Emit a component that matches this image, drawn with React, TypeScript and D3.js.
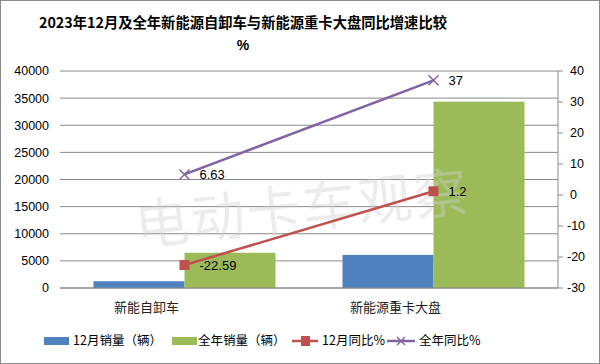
import React from 'react';
import * as d3 from 'd3';

const categories = ['新能自卸车', '新能源重卡大盘'];
const decSales = [1250, 6100];
const yearSales = [6500, 34350];
const decYoY = [-22.59, 1.2];
const yearYoY = [6.63, 37];
const leftTicks = [0, 5000, 10000, 15000, 20000, 25000, 30000, 35000, 40000];
const rightTicks = [-30, -20, -10, 0, 10, 20, 30, 40];
const seriesNames = ['12月销量（辆）', '全年销量（辆）', '12月同比%', '全年同比%'];

const W = 600;
const H = 364;
const plot = { left: 60, right: 558, top: 71, bottom: 288 };
const colors = { blue: '#4F81BD', green: '#9BBB59', red: '#C0504D', purple: '#8064A2' };
const numFont = '"Liberation Sans", "Open Sans", sans-serif';
const cjkFont = '"Noto Sans CJK SC", sans-serif';

export default function App() {
  const x = d3.scaleBand<string>().domain(categories).range([plot.left, plot.right]).paddingInner(0).paddingOuter(0);
  const xs = d3.scaleBand<string>().domain(['dec', 'year']).range([0, x.bandwidth()]).paddingInner(0).paddingOuter(0.368);
  const yL = d3.scaleLinear().domain([0, 40000]).range([plot.bottom, plot.top]);
  const yR = d3.scaleLinear().domain([-30, 40]).range([plot.bottom, plot.top]);
  const cx = (c: string) => (x(c) as number) + x.bandwidth() / 2;

  const line = d3.line<number>()
    .x((_, i) => cx(categories[i]))
    .y(d => yR(d));

  const cross = (px: number, py: number, s: number, key: string) => (
    <g key={key} stroke={colors.purple} strokeWidth={1.5}>
      <line x1={px - s} y1={py - s} x2={px + s} y2={py + s} />
      <line x1={px - s} y1={py + s} x2={px + s} y2={py - s} />
    </g>
  );

  const legendY = 341;
  const legend = [
    { x: 44, type: 'bar', color: colors.blue, tx: 73 },
    { x: 172, type: 'bar', color: colors.green, tx: 198 },
    { x: 292, type: 'red', color: colors.red, tx: 322 },
    { x: 387, type: 'purple', color: colors.purple, tx: 419 },
  ];

  return (
    <svg width={W} height={H} style={{ position: 'absolute', left: 0, top: 0, background: '#fff' }}>
      <rect x={0.5} y={0.5} width={W - 1} height={H - 1} fill="#fff" stroke="#8c8c8c" />

      <text x={243} y={28} textAnchor="middle" fontFamily={cjkFont} fontWeight="bold" fontSize={14.3} fill="#000">
        2023年12月及全年新能源自卸车与新能源重卡大盘同比增速比较
      </text>
      <text x={243} y={50} textAnchor="middle" fontFamily={numFont} fontWeight="bold" fontSize={14} fill="#000">%</text>

      {/* gridlines */}
      {leftTicks.map(t => (
        <line key={'g' + t} x1={plot.left} x2={plot.right} y1={yL(t)} y2={yL(t)} stroke="#8a8a8a" strokeWidth={1} />
      ))}

      {/* left axis labels */}
      {leftTicks.map(t => (
        <text key={'l' + t} x={49} y={yL(t)} dy="0.35em" textAnchor="end" fontFamily={numFont} fontSize={12.5} fill="#000">{t}</text>
      ))}

      {/* right axis */}
      <line x1={plot.right} x2={plot.right} y1={plot.top} y2={plot.bottom} stroke="#8a8a8a" />
      {rightTicks.map(t => (
        <g key={'r' + t}>
          <line x1={plot.right} x2={plot.right + 5} y1={yR(t)} y2={yR(t)} stroke="#8a8a8a" />
          <text x={t < 0 ? 567 : 570} y={yR(t)} dy="0.35em" fontFamily={numFont} fontSize={12.5} fill="#000">{t}</text>
        </g>
      ))}

      {/* bars */}
      {categories.map((c, i) => (
        <g key={'b' + c}>
          <rect x={(x(c) as number) + (xs('dec') as number)} width={xs.bandwidth()} y={yL(decSales[i])} height={plot.bottom - yL(decSales[i])} fill={colors.blue} />
          <rect x={(x(c) as number) + (xs('year') as number)} width={xs.bandwidth()} y={yL(yearSales[i])} height={plot.bottom - yL(yearSales[i])} fill={colors.green} />
        </g>
      ))}

      {/* bottom axis */}
      <line x1={plot.left} x2={plot.right} y1={plot.bottom} y2={plot.bottom} stroke="#8a8a8a" />

      {/* watermark */}
      <text x={302} y={228} textAnchor="middle" transform="rotate(-6 302 205)" fontFamily={cjkFont} fontSize={54} fill="#d0d0d0" fillOpacity={0.4} letterSpacing={2}>
        电动卡车观察
      </text>

      {/* lines */}
      <path d={line(decYoY) || ''} fill="none" stroke={colors.red} strokeWidth={2.5} />
      <path d={line(yearYoY) || ''} fill="none" stroke={colors.purple} strokeWidth={2.5} />
      {decYoY.map((v, i) => (
        <rect key={'m' + i} x={cx(categories[i]) - 5} y={yR(v) - 5} width={10} height={10} fill={colors.red} />
      ))}
      {yearYoY.map((v, i) => cross(cx(categories[i]), yR(v), 5, 'c' + i))}

      {/* data labels */}
      {decYoY.map((v, i) => (
        <text key={'dl' + i} x={cx(categories[i]) + 15} y={yR(v)} dy="0.35em" fontFamily={numFont} fontSize={13} fill="#000">{v}</text>
      ))}
      {yearYoY.map((v, i) => (
        <text key={'yl' + i} x={cx(categories[i]) + 15} y={yR(v)} dy="0.35em" fontFamily={numFont} fontSize={13} fill="#000">{v}</text>
      ))}

      {/* category labels */}
      {categories.map(c => (
        <text key={'cl' + c} x={cx(c) - 38} y={307} dy="0.35em" textAnchor="middle" fontFamily={cjkFont} fontSize={13} fill="#222">{c}</text>
      ))}

      {/* legend */}
      {legend.map((l, i) => (
        <g key={'lg' + i}>
          {l.type === 'bar' && <rect x={l.x} y={legendY - 4} width={25} height={8} fill={l.color} />}
          {l.type === 'red' && (
            <g>
              <line x1={l.x} x2={l.x + 26} y1={legendY} y2={legendY} stroke={l.color} strokeWidth={2.5} />
              <rect x={l.x + 9} y={legendY - 5} width={9} height={10} fill={l.color} />
            </g>
          )}
          {l.type === 'purple' && (
            <g>
              <line x1={l.x} x2={l.x + 28} y1={legendY} y2={legendY} stroke={l.color} strokeWidth={2.5} />
              {cross(l.x + 14, legendY, 4, 'lc')}
            </g>
          )}
          <text x={l.tx} y={legendY} dy="0.35em" fontFamily={cjkFont} fontSize={12.5} fill="#000">{seriesNames[i]}</text>
        </g>
      ))}
    </svg>
  );
}
